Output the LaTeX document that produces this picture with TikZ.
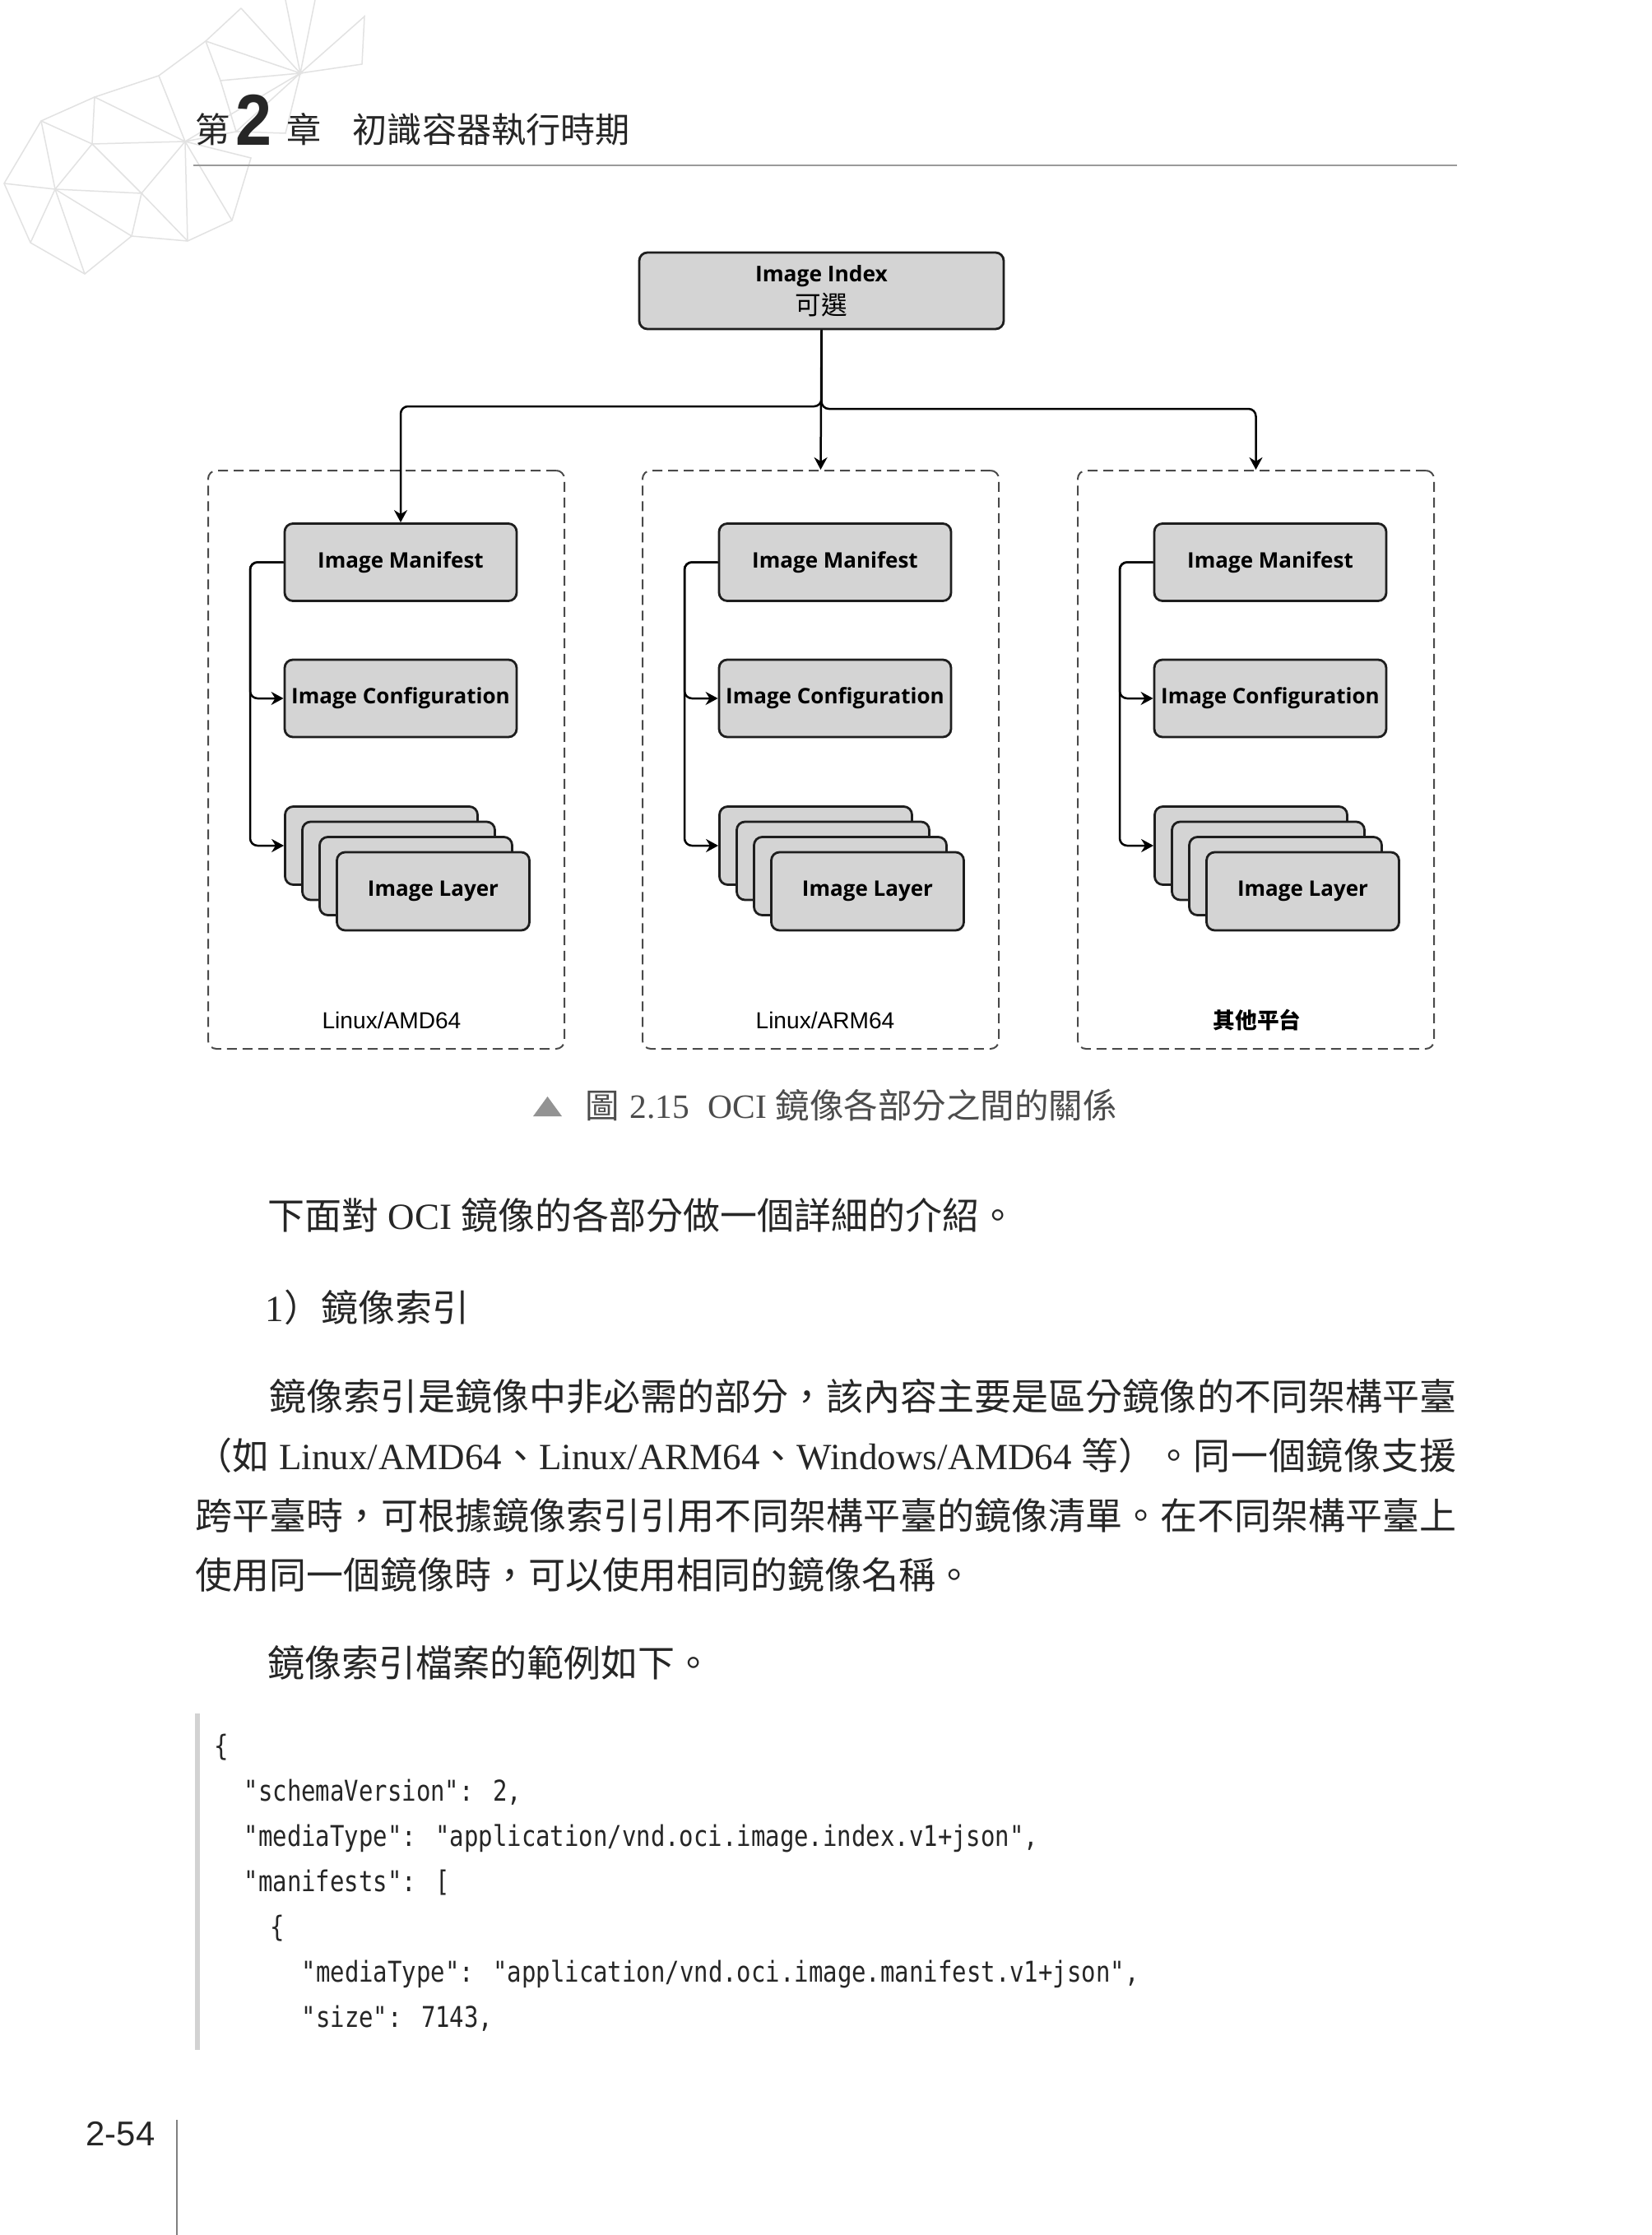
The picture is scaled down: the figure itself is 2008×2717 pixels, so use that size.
\documentclass[tikz,border=0pt]{standalone}
\usepackage{fontspec}
\setmainfont{Liberation Serif}
\newfontfamily\cjk{Noto Sans CJK TC}
\newfontfamily\boxfont{Open Sans}
\newfontfamily\labfont{Liberation Sans}
\newfontfamily\codefont{DejaVu Sans Mono}[FakeStretch=0.833]
\newfontfamily\bignum{Liberation Sans}[FakeStretch=0.9]
\usetikzlibrary{arrows.meta}
\XeTeXlinebreaklocale "zh"
\XeTeXlinebreakskip=0pt plus 3pt
\definecolor{boxgray}{HTML}{D4D4D4}
\definecolor{boxline}{HTML}{1E1E1E}
\definecolor{dashgray}{HTML}{4A4A4A}
\definecolor{meshgray}{HTML}{E2E2E2}
\definecolor{rulegray}{HTML}{9A9A9A}
\definecolor{captext}{HTML}{4C4C4C}
\definecolor{bodyink}{HTML}{262626}
\definecolor{codebar}{HTML}{D2D2D2}
\tikzset{
  imgbox/.style={draw=boxline, fill=boxgray, line width=0.28mm, rounded corners=1mm,
    minimum width=28.2mm, minimum height=9.4mm, inner sep=0pt,
    font=\boxfont\bfseries\fontsize{7.4pt}{9pt}\selectfont},
  layerbox/.style={imgbox, minimum width=23.4mm, minimum height=9.5mm},
  platform/.style={draw=dashgray, dash pattern=on 1.2mm off 0.7mm, line width=0.2mm,
    rounded corners=1mm, minimum width=43.3mm, minimum height=70.3mm},
  conn/.style={line width=0.25mm, rounded corners=0.9mm},
  arr/.style={conn, -{Stealth[length=1.5mm,width=1.6mm]}},
  plabel/.style={font=\labfont\fontsize{8pt}{9pt}\selectfont, inner sep=0pt},
  mesh/.style={draw=meshgray, line width=0.15mm},
  body/.style={font=\fontsize{12.8pt}{20.66pt}\selectfont, text=bodyink, inner sep=0pt, anchor=base west},
  code/.style={font=\codefont\fontsize{9.9pt}{12pt}\selectfont, text=bodyink, inner sep=0pt, anchor=base west}
}
\begin{document}
\begin{tikzpicture}[x=0.1mm, y=-0.1mm]
\useasboundingbox (0,0) rectangle (2008,2717);
\fill[white] (0,0) rectangle (2008,2717);

\coordinate (h) at (365,89);
\coordinate (mm) at (225,172);
\draw[mesh] (293,10) -- (250,50) -- (193,92) -- (115,118) -- (50,147) -- (5,223) -- (37,295) -- (103,333) -- (160,287) -- (228,293) -- (282,268) -- (305,192) -- (225,172);
\draw[mesh] (293,10) -- (h) -- (347,0);
\draw[mesh] (383,0) -- (h) -- (443,20) -- (440,78) -- (h);
\draw[mesh] (250,50) -- (h) -- (268,98) -- (250,50);
\draw[mesh] (268,98) -- (287,160) -- (h) -- (347,162) -- (287,160) -- (mm) -- (h);
\draw[mesh] (193,92) -- (mm) -- (115,118) -- (112,175) -- (50,147);
\draw[mesh] (112,175) -- (mm) -- (282,268);
\draw[mesh] (mm) -- (228,293);
\draw[mesh] (mm) -- (172,235) -- (228,293);
\draw[mesh] (112,175) -- (172,235) -- (67,230) -- (112,175);
\draw[mesh] (50,147) -- (67,230) -- (5,223);
\draw[mesh] (37,295) -- (67,230) -- (103,333);
\draw[mesh] (67,230) -- (160,287) -- (172,235);

\node[font=\cjk\fontsize{12pt}{14pt}\selectfont, text=bodyink, inner sep=0pt, anchor=base west] (chap) at (237,173.5) {第};
\node[font=\bignum\bfseries\fontsize{25pt}{26pt}\selectfont, text=bodyink, inner sep=0pt, anchor=base west] (chapnum) at (286,177) {2};
\node[font=\cjk\fontsize{12pt}{14pt}\selectfont, text=bodyink, inner sep=0pt, anchor=base west] (chapend) at (348,173.5) {章};
\node[font=\cjk\fontsize{12pt}{14pt}\selectfont, text=bodyink, inner sep=0pt, anchor=base west] (chaptitle) at (428,173.5) {初識容器執行時期};
\draw[rulegray, line width=0.2mm] (235,201) -- (1771,201);

\node[imgbox, minimum width=44.3mm, minimum height=9.3mm, align=center,
  font=\boxfont\bfseries\fontsize{7.5pt}{11.5pt}\selectfont] (idx) at (998.5,353.5)
  {\raisebox{-0.8pt}{Image Index}\\{\cjk\mdseries\fontsize{9pt}{11pt}\selectfont\raisebox{-0.8pt}{可選}}};

\node[platform] (p1) at (469.5,923.5) {};
\node[platform] (p2) at (997.5,923.5) {};
\node[platform] (p3) at (1526.5,923.5) {};

\node[imgbox] (m1) at (487,683.5) {Image Manifest};
\node[imgbox] (c1) at (487,849) {Image Configuration};
\node[layerbox] (l1a) at (463.5,1028) {};
\node[layerbox] (l1b) at (484.5,1046.5) {};
\node[layerbox] (l1c) at (505.5,1065) {};
\node[layerbox] (l1d) at (526.5,1083.5) {Image Layer};
\node[plabel] (t1) at (476,1240) {Linux/AMD64};

\node[imgbox] (m2) at (1015,683.5) {Image Manifest};
\node[imgbox] (c2) at (1015,849) {Image Configuration};
\node[layerbox] (l2a) at (991.5,1028) {};
\node[layerbox] (l2b) at (1012.5,1046.5) {};
\node[layerbox] (l2c) at (1033.5,1065) {};
\node[layerbox] (l2d) at (1054.5,1083.5) {Image Layer};
\node[plabel] (t2) at (1003,1240) {Linux/ARM64};

\node[imgbox] (m3) at (1544,683.5) {Image Manifest};
\node[imgbox] (c3) at (1544,849) {Image Configuration};
\node[layerbox] (l3a) at (1520.5,1028) {};
\node[layerbox] (l3b) at (1541.5,1046.5) {};
\node[layerbox] (l3c) at (1562.5,1065) {};
\node[layerbox] (l3d) at (1583.5,1083.5) {Image Layer};
\node[plabel, font=\cjk\bfseries\fontsize{7.6pt}{9pt}\selectfont] (t3) at (1528,1240) {其他平台};

\draw[arr] (idx.south) -- (998.5,494) -- (487,494) -- (m1.north);
\draw[arr] (idx.south) -- (p2.north);
\draw[arr] (idx.south) -- (998.5,497) -- (1526.5,497) -- (p3.north);

\draw[arr] (m1.west) -- (304,683.5) -- (304,849) -- (c1.west);
\draw[arr] (m1.west) -- (304,683.5) -- (304,1028) -- (l1a.west);
\draw[arr] (m2.west) -- (832,683.5) -- (832,849) -- (c2.west);
\draw[arr] (m2.west) -- (832,683.5) -- (832,1028) -- (l2a.west);
\draw[arr] (m3.west) -- (1361,683.5) -- (1361,849) -- (c3.west);
\draw[arr] (m3.west) -- (1361,683.5) -- (1361,1028) -- (l3a.west);

\fill[gray!85] (648,1357) -- (683,1357) -- (665.5,1333) -- cycle;
\node[font=\fontsize{11.8pt}{13pt}\selectfont, text=captext, inner sep=0pt, anchor=base west] (cap) at (711,1359)
  {{\cjk 圖}\hspace{0.3em}2.15\hspace{0.55em}OCI\hspace{0.25em}{\cjk 鏡像各部分之間的關係}};

\node[body] (intro) at (325,1494) {{\cjk 下面對} OCI {\cjk 鏡像的各部分做一個詳細的介紹。}};
\node[body] (sec) at (322,1606) {1{\cjk ）鏡像索引}};
\node[body, text width=153.3mm, align=justify] (para) at (237,1714)
  {\hspace*{2em}{\cjk 鏡像索引是鏡像中非必需的部分，該內容主要是區分鏡像的不同架構平臺}\linebreak
   {\cjk （如} Linux/AMD64{\cjk 、}Linux/ARM64{\cjk 、}Windows/AMD64 {\cjk 等）。同一個鏡像支援}\linebreak
   {\cjk 跨平臺時，可根據鏡像索引引用不同架構平臺的鏡像清單。在不同架構平臺上}\linebreak
   {\cjk 使用同一個鏡像時，可以使用相同的鏡像名稱。}};
\node[body] (example) at (325,2038) {{\cjk 鏡像索引檔案的範例如下。}};

\fill[codebar] (237,2083) rectangle (243,2492);
\node[code] (code1) at (260,2134) {\{};
\node[code] (code2) at (296,2189) {"schemaVersion": 2,};
\node[code] (code3) at (296,2244) {"mediaType": "application/vnd.oci.image.index.v1+json",};
\node[code] (code4) at (296,2299) {"manifests": [};
\node[code] (code5) at (328,2354) {\{};
\node[code] (code6) at (366,2409) {"mediaType": "application/vnd.oci.image.manifest.v1+json",};
\node[code] (code7) at (366,2464) {"size": 7143,};

\node[font=\labfont\fontsize{11.9pt}{13pt}\selectfont, text=bodyink, inner sep=0pt, anchor=base west] (pageno) at (104,2608) {2-54};
\draw[gray, line width=0.15mm] (215,2577) -- (215,2717);
\end{tikzpicture}
\end{document}
